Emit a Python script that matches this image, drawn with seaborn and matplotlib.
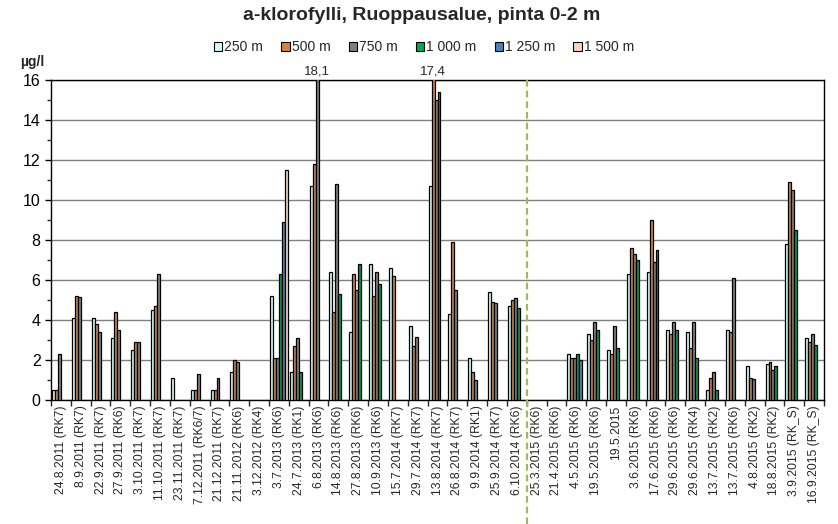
import numpy as np
import pandas as pd
import matplotlib
matplotlib.use("Agg")
import matplotlib.pyplot as plt
import seaborn as sns
from matplotlib.ticker import MultipleLocator, FixedLocator
from matplotlib.patches import Patch

nan = np.nan

dates = ["24.8.2011 (RK7)", "8.9.2011 (RK7)", "22.9.2011 (RK7)", "27.9.2011 (RK6)",
         "3.10.2011 (RK7)", "11.10.2011 (RK7)", "23.11.2011 (RK7)", "7.12.2011 (RK6/7)",
         "21.12.2011 (RK7)", "21.11.2012 (RK6)", "3.12.2012 (RK4)", "3.7.2013 (RK6)",
         "24.7.2013 (RK1)", "6.8.2013 (RK6)", "14.8.2013 (RK6)", "27.8.2013 (RK6)",
         "10.9.2013 (RK6)", "15.7.2014 (RK7)", "29.7.2014 (RK7)", "13.8.2014 (RK7)",
         "26.8.2014 (RK7)", "9.9.2014 (RK1)", "25.9.2014 (RK7)", "6.10.2014 (RK6)",
         "25.3.2015 (RK6)", "21.4.2015 (RK6)", "4.5.2015 (RK6)", "19.5.2015 (RK6)",
         "19.5.2015", "3.6.2015 (RK6)", "17.6.2015 (RK6)", "29.6.2015 (RK6)",
         "29.6.2015 (RK4)", "13.7.2015 (RK2)", "13.7.2015 (RK6)", "4.8.2015 (RK2)",
         "18.8.2015 (RK2)", "3.9.2015 (RK_S)", "16.9.2015 (RK_S)"]

distances = ["250 m", "500 m", "750 m", "1 000 m", "1 250 m", "1 500 m"]

s250 = [0.5, 4.1, 4.1, 3.1, 2.5, 4.5, 1.1, 0.5, 0.5, 1.4, nan, 5.2, 1.4, 10.7, 6.4, 3.4,
        6.8, 6.6, 3.7, 10.7, 4.3, 2.1, 5.4, 4.7, nan, nan, 2.3, 3.3, 2.5, 6.3, 6.4, 3.5,
        3.4, 0.5, 3.5, 1.7, 1.8, 7.8, 3.1]
s500 = [0.5, 5.2, 3.8, 4.4, 2.9, 4.7, nan, 0.5, 0.5, 2.0, nan, 2.1, 2.7, 11.8, 4.4, 6.3,
        5.2, 6.2, 2.7, 17.4, 7.9, 1.4, 4.9, 5.0, nan, nan, 2.1, 3.0, 2.3, 7.6, 9.0, 3.3,
        2.6, 1.1, 3.4, 1.1, 1.9, 10.9, 2.9]
s750 = [2.3, 5.15, 3.4, 3.5, 2.9, 6.3, nan, 1.3, 1.1, 1.9, nan, 2.1, 3.1, 18.1, 10.8, 5.5,
        6.4, nan, 3.15, 15.0, 5.5, 1.0, 4.85, 5.1, nan, nan, 2.1, 3.9, 3.7, 7.3, 6.9, 3.9,
        3.9, 1.4, 6.1, 1.05, 1.5, 10.5, 3.3]
s1000 = [nan, nan, nan, nan, nan, nan, nan, nan, nan, nan, nan, 6.3, 1.4, nan, 5.3, 6.8,
         5.8, nan, nan, 15.4, nan, nan, nan, 4.6, nan, nan, 2.3, 3.5, 2.6, 7.0, 7.5, 3.5,
         2.1, 0.5, nan, nan, 1.7, 8.5, 2.75]
s1250 = [nan] * 11 + [8.9] + [nan] * 14 + [2.0] + [nan] * 12
s1500 = [nan] * 11 + [11.5] + [nan] * 27

series = [s250, s500, s750, s1000, s1250, s1500]
colors = ["#CCFFFF", "#DA823A", "#808080", "#00A84F", "#4F81BD", "#FAD4B4"]

rows = []
for dist, vals in zip(distances, series):
    for d, v in zip(dates, vals):
        rows.append({"date": d, "dist": dist, "value": v})
df = pd.DataFrame(rows)

sns.set_style("white")
plt.rcParams["font.family"] = ["Liberation Sans", "DejaVu Sans"]

fig = plt.figure(figsize=(8.38, 5.24), dpi=100)
ax = fig.add_axes([51 / 838, 1 - 400 / 524, (824 - 51) / 838, 320 / 524])

sns.barplot(data=df.dropna(), x="date", y="value", hue="dist", order=dates,
            hue_order=distances, palette=colors, width=0.9, errorbar=None,
            edgecolor="black", linewidth=0.9, ax=ax, legend=False, zorder=3)

ax.set_xlim(-0.5, len(dates) - 0.5)
ax.set_ylim(0, 16)
ax.set_xlabel("")
ax.set_ylabel("")

ax.yaxis.set_major_locator(MultipleLocator(2))
ax.yaxis.set_minor_locator(MultipleLocator(1))
ax.yaxis.grid(True, which="major", color="#808080", linewidth=1.0, zorder=0)
ax.set_axisbelow(True)
ax.tick_params(axis="y", which="major", direction="out", length=4, width=1,
               labelsize=11.5, left=True, colors="black")
ax.tick_params(axis="y", which="minor", direction="out", length=3, width=1, left=True)

ax.set_xticks(range(len(dates)))
ax.set_xticklabels(dates, rotation=90, fontsize=8.7)
ax.xaxis.set_minor_locator(FixedLocator(np.arange(-0.5, len(dates), 1.0)))
ax.tick_params(axis="x", which="major", length=0, pad=4)
ax.tick_params(axis="x", which="minor", direction="out", length=4, width=1, bottom=True)

for sp in ax.spines.values():
    sp.set_visible(True)
    sp.set_color("black")
    sp.set_linewidth(1.0)

# dashed separator between 2014 and 2015
ax.plot([23.5, 23.5], [1.0, -0.39], transform=ax.get_xaxis_transform(),
        color="#9BBB59", linewidth=1.6, linestyle=(0, (3, 1.8)), clip_on=False, zorder=5)

# labels for clipped bars
bar_w = 0.9 / len(distances)
for cat, hue_i, label in [("6.8.2013 (RK6)", 2, "18,1"), ("13.8.2014 (RK7)", 1, "17,4")]:
    xc = dates.index(cat) - 0.45 + bar_w * (hue_i + 0.5)
    ax.text(xc, 16.15, label, ha="center", va="bottom", fontsize=9.5)

handles = [Patch(facecolor=c, edgecolor="black", linewidth=0.8) for c in colors]
fig.legend(handles, distances, loc="center", bbox_to_anchor=(0.506, 1 - 47 / 524),
           ncol=6, frameon=False, fontsize=10, handlelength=0.6, handleheight=0.6,
           handletextpad=0.15, columnspacing=1.3)

fig.text(0.503, 1 - 16 / 524, "a-klorofylli, Ruoppausalue, pinta 0-2 m",
         ha="center", va="center", fontsize=14, fontweight="bold")
fig.text(20 / 838, 1 - 62 / 524, "µg/l", ha="left", va="center",
         fontsize=10, fontweight="bold")

fig.savefig("out.png", dpi=100)
